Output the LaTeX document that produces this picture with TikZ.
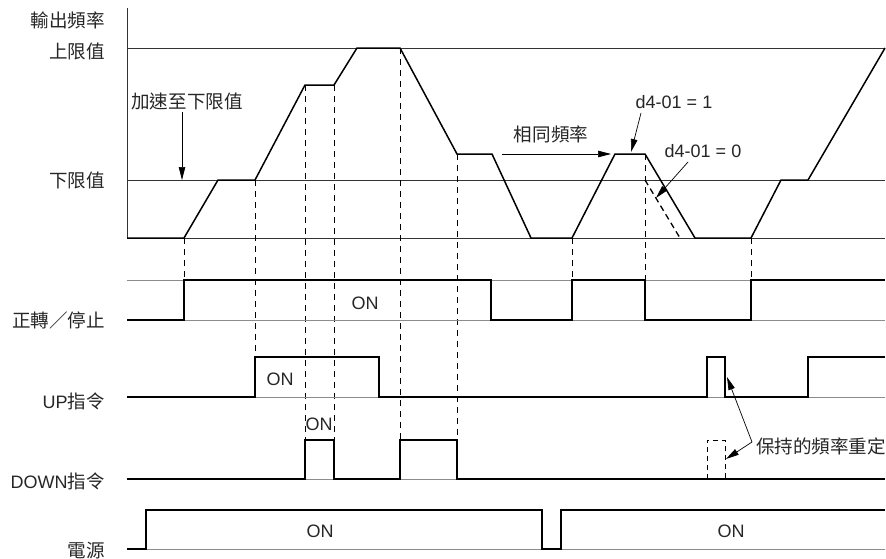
\documentclass[tikz,border=0pt]{standalone}
\usepackage{fontspec}
\setmainfont{Liberation Sans}
\newfontfamily\cjk[Scale=1.03]{Noto Sans CJK TC}
\usetikzlibrary{arrows.meta}
\begin{document}
\begin{tikzpicture}[x=1pt,y=-1pt,
  lbl/.style={font=\fontsize{18}{20}\selectfont, inner sep=0pt, anchor=base east, text=black!85},
  txt/.style={font=\fontsize{18}{20}\selectfont, inner sep=0pt, anchor=base, text=black!85},
  wave/.style={line width=1.5pt, line join=miter, black},
  axis/.style={line width=0.9pt, black!80},
  gref/.style={line width=0.9pt, black!45},
  vdash/.style={line width=0.7pt, black, dash pattern=on 6pt off 5pt},
  arr/.style={line width=0.7pt, black, -{Triangle[length=13pt,width=6.5pt]}}]
\useasboundingbox (0,0) rectangle (886,558);

% ---------- labels ----------
\node[lbl] (lfreq) at (105,27) {\cjk 輸出頻率};
\node[lbl] (lup) at (105,58) {\cjk 上限值};
\node[lbl] (llow) at (105,187) {\cjk 下限值};
\node[lbl] (lrun) at (105,327) {\cjk 正轉／停止};
\node[lbl] (lupc) at (105,408) {UP{\cjk 指令}};
\node[lbl] (ldown) at (105,488) {DOWN{\cjk 指令}};
\node[lbl] (lpow) at (105,557) {\cjk 電源};

% ---------- frequency axes ----------
\draw[axis] (127,8) -- (127,238);
\draw[axis] (127,48) -- (885,48);
\draw[axis] (127,180) -- (885,180);
\draw[axis] (127,238) -- (885,238);

% ---------- vertical dashed guides ----------
\draw[vdash] (184,238) -- (184,280);
\draw[vdash] (255,180) -- (255,357);
\draw[vdash] (305,85) -- (305,440);
\draw[vdash] (334,85) -- (334,440);
\draw[vdash] (400,48) -- (400,440);
\draw[vdash] (457,154) -- (457,440);
\draw[vdash] (572,238) -- (572,280);
\draw[vdash] (645,154) -- (645,280);
\draw[vdash] (751,238) -- (751,280);

% ---------- output frequency ----------
\draw[wave] (127,238) -- (184,238) -- (218,180) -- (255,180) -- (305,85) -- (334,85)
  -- (357,48) -- (400,48) -- (457,154) -- (492,154) -- (531,238) -- (572,238)
  -- (615,154) -- (645,154) -- (695,238) -- (751,238) -- (781,180) -- (808,180) -- (885,48);
\draw[line width=1.3pt, dash pattern=on 6pt off 4pt] (645,180) -- (680,238);

% ---------- run / stop ----------
\draw[gref] (127,280) -- (885,280);
\draw[gref] (127,320) -- (885,320);
\draw[wave] (127,320) -- (184,320) -- (184,280) -- (491,280) -- (491,320) -- (572,320)
  -- (572,280) -- (645,280) -- (645,320) -- (751,320) -- (751,280) -- (885,280);

% ---------- UP ----------
\draw[gref] (127,397) -- (885,397);
\draw[wave] (127,397) -- (255,397) -- (255,357) -- (379,357) -- (379,397) -- (707,397)
  -- (707,357) -- (725,357) -- (725,397) -- (808,397) -- (808,357) -- (885,357);

% ---------- DOWN ----------
\draw[gref] (127,479) -- (885,479);
\draw[wave] (127,479) -- (305,479) -- (305,440) -- (334,440) -- (334,479) -- (400,479)
  -- (400,440) -- (457,440) -- (457,479) -- (885,479);
\draw[vdash, line width=0.9pt, dash pattern=on 5pt off 4pt] (707,479) -- (707,440) -- (725,440) -- (725,479);

% ---------- power ----------
\draw[gref] (127,549) -- (885,549);
\draw[wave] (127,549) -- (146,549) -- (146,510) -- (542,510) -- (542,549) -- (561,549)
  -- (561,510) -- (885,510);

% ---------- ON texts ----------
\node[txt] (on1) at (365,309.5) {ON};
\node[txt] (on2) at (280,385.5) {ON};
\node[txt] (on3) at (319,430.5) {ON};
\node[txt] (on4) at (320,537.5) {ON};
\node[txt] (on5) at (731,537.5) {ON};

% ---------- annotations ----------
\node[txt] (accel) at (187,108) {\cjk 加速至下限值};
\coordinate (accelA) at (182,112);
\coordinate (accelB) at (182,180);
\draw[arr] (accelA) -- (accelB);

\node[txt] (same) at (551,141) {\cjk 相同頻率};
\coordinate (sameA) at (502,154);
\coordinate (sameB) at (611,154);
\draw[arr] (sameA) -- (sameB);

\node[txt] (d1) at (674,108) {d4-01 = 1};
\coordinate (d1A) at (641,113);
\coordinate (d1B) at (631,152);
\draw[arr] (d1A) -- (d1B);

\node[txt] (d0) at (703,157.5) {d4-01 = 0};
\coordinate (d0A) at (688,162);
\coordinate (d0B) at (656,198);
\draw[arr] (d0A) -- (d0B);

\node[txt, anchor=base west] (hold) at (756,453) {\cjk 保持的頻率重定};
\coordinate (holdA) at (752,442);
\coordinate (holdB) at (727,377);
\coordinate (holdC) at (726,459);
\draw[arr] (holdA) -- (holdB);
\draw[arr] (holdA) -- (holdC);
\end{tikzpicture}
\end{document}
